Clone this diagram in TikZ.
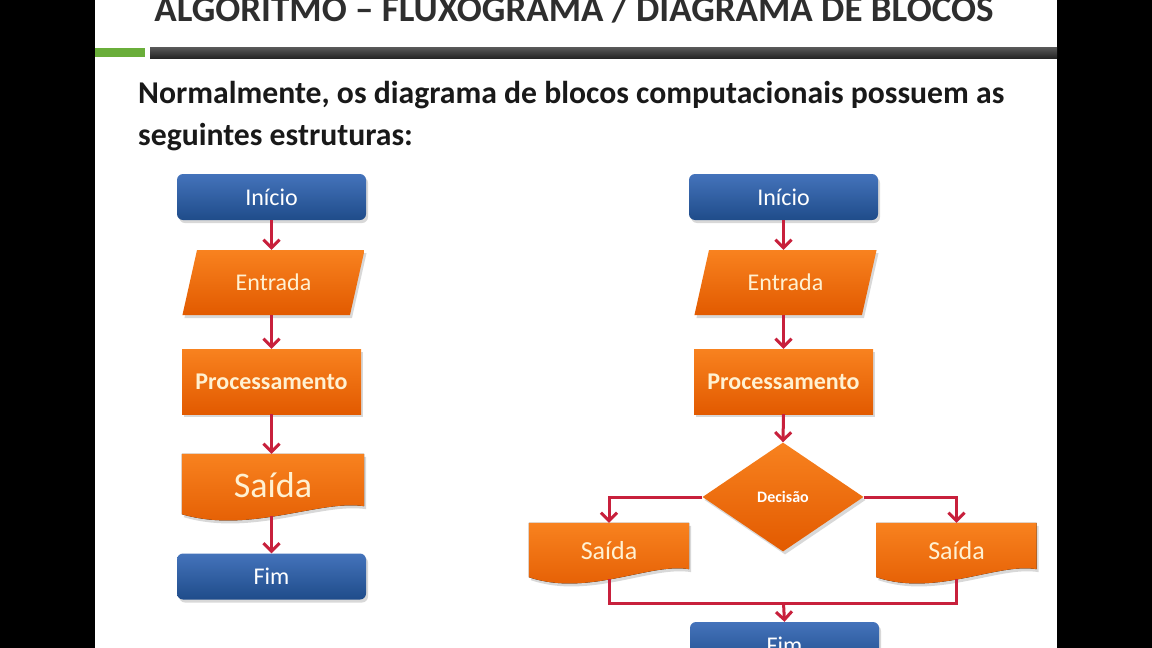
\documentclass[tikz,border=0pt]{standalone}
\usepackage{fontspec}
\setmainfont{Carlito}
\usetikzlibrary{positioning,shapes.geometric,arrows.meta,shadows,backgrounds,calc}

\definecolor{azulA}{HTML}{4473BB}
\definecolor{azulB}{HTML}{1F4C8A}
\definecolor{laranjaA}{HTML}{F8821F}
\definecolor{laranjaB}{HTML}{E25A00}
\definecolor{seta}{HTML}{C8203C}
\definecolor{creme}{HTML}{FFF1D2}
\definecolor{verde}{HTML}{6AAE3A}
\definecolor{barraA}{HTML}{5A5A5A}
\definecolor{barraB}{HTML}{262626}

\tikzset{
  sombra/.style={drop shadow={shadow xshift=2pt,shadow yshift=-3pt,opacity=0.3}},
  terminal/.style={rectangle, rounded corners=6pt, top color=azulA, bottom color=azulB,
    minimum width=189, minimum height=46, text=white, font=\fontsize{24}{28}\selectfont, sombra},
  entrada/.style={trapezium, trapezium left angle=70, trapezium right angle=110,
    trapezium stretches=true, top color=laranjaA, bottom color=laranjaB,
    minimum width=183, minimum height=65, inner sep=2pt, text=creme,
    font=\fontsize{24}{28}\selectfont, sombra},
  processo/.style={rectangle, top color=laranjaA, bottom color=laranjaB, minimum width=179,
    minimum height=65, text=creme, font=\fontsize{24}{28}\selectfont\bfseries, sombra},
  documento/.style={rectangle, inner sep=0pt, text=creme},
  decisao/.style={diamond, aspect=1.5, top color=laranjaA, bottom color=laranjaB,
    minimum width=161, minimum height=109, inner sep=0pt, text=white,
    font=\fontsize{16}{18}\selectfont\bfseries, sombra},
  fluxo/.style={draw=seta, line width=3pt, -{Straight Barb[length=8pt,width=16pt]}},
  ligacao/.style={draw=seta, line width=3pt},
}

% wavy bottom of an output block, drawn behind the named node
\newcommand{\docfundo}[1]{%
  \fill[top color=laranjaA, bottom color=laranjaB, sombra]
    (#1.north west) -- (#1.north east) -- ([yshift=10pt]#1.south east)
    .. controls ($(#1.south west)!0.76!(#1.south east)+(0,-17)$)
    and ($(#1.south west)!0.37!(#1.south east)+(0,18)$)
    .. ($(#1.south west)+(0,-2)$) -- cycle;}

\begin{document}
\begin{tikzpicture}[x=1pt,y=-1pt]
  \clip (0,0) rectangle (1152,648);

  % Slide
  \begin{pgfonlayer}{background}
    \fill[black] (0,0) rectangle (1152,648);
    \fill[white] (95,0) rectangle (1057,648);
    \fill[verde] (95,48) rectangle (145,57);
    \fill[top color=barraA, bottom color=barraB] (150,47) rectangle (1057,58);
  \end{pgfonlayer}

  \node[anchor=base, text=black!82, font=\fontsize{37}{40}\selectfont\bfseries] (titulo) at (574,21)
    {ALGORITMO – FLUXOGRAMA / DIAGRAMA DE BLOCOS};
  \node[anchor=base west, inner sep=0pt, text=black!90, font=\fontsize{31.7}{40}\selectfont\bfseries] (linha1) at (138,103)
    {Normalmente, os diagrama de blocos computacionais possuem as};
  \node[anchor=base west, inner sep=0pt, text=black!90, font=\fontsize{31.7}{40}\selectfont\bfseries] (linha2) at (138,145)
    {seguintes estruturas:};

  % Blocks shared by both columns
  \foreach \c/\x in {1/0, 2/512} {
    \node[terminal] (ini\c) at (271.5+\x,197) {Início};
    \node[entrada] (ent\c) at (273.5+\x,282.5) {Entrada};
    \node[processo] (proc\c) at (271.5+\x,381.5) {Processamento};
    \draw[fluxo] (ini\c.south) -- (ini\c.south |- ent\c.north);
    \draw[fluxo] (ini\c.south |- ent\c.south) -- (ini\c.south |- proc\c.north);
  }

  % Left column
  \node[documento, minimum width=182, minimum height=62, font=\fontsize{36}{40}\selectfont] (sai1) at (273,485) {Saída};
  \node[terminal] (fim1) at (271.5,576.5) {Fim};
  \draw[fluxo] (proc1.south) -- (proc1.south |- sai1.north);
  \draw[fluxo] (proc1.south |- sai1.south) -- (proc1.south |- fim1.north);

  % Right column
  \node[decisao] (dec) at (783,497) {Decisão};
  \node[documento, minimum width=160, minimum height=56, font=\fontsize{26}{30}\selectfont] (sai2) at (609,551) {Saída};
  \node[documento, minimum width=160, minimum height=56, font=\fontsize{26}{30}\selectfont] (sai3) at (956.5,551) {Saída};
  \node[terminal] (fim2) at (784.5,645) {Fim};
  \coordinate (jn) at (783.5,603);

  \draw[fluxo] (proc2.south) -- (dec.north);
  \draw[fluxo] (dec.west) -| (sai2.north);
  \draw[fluxo] (dec.east) -| (sai3.north);
  \draw[ligacao] (sai2.south) |- (jn) -| (sai3.south);
  \draw[fluxo] (jn) -- (fim2.north);

  \begin{pgfonlayer}{background}
    \foreach \s in {sai1,sai2,sai3} {\docfundo{\s}}
  \end{pgfonlayer}
\end{tikzpicture}
\end{document}
